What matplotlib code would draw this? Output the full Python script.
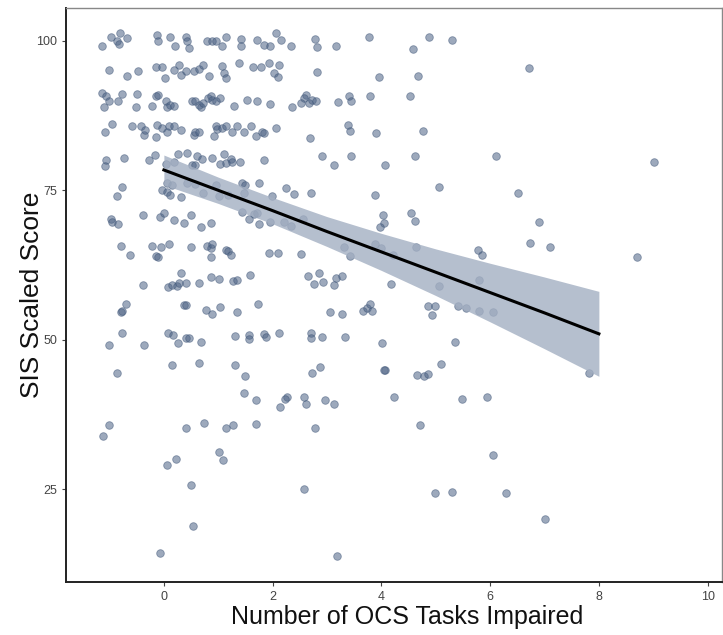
import matplotlib.pyplot as plt

# Jittered points: number of OCS tasks impaired vs SIS scaled score
ocs_x = [
    # ~100 band
    -1.14, -0.97, -0.86, -0.80, -0.83, -0.68, -0.12, -0.10, 0.11, 0.21, 0.40, 0.43, 0.47,
    0.79, 0.89, 0.95, 1.07, 1.14, 1.41, 1.41, 1.72, 1.84, 1.96, 2.06, 2.15, 2.33,
    2.78, 2.82, 3.16, 3.78, 4.59, 4.87, 5.30,
    # ~95 band
    -1.01, -0.68, -0.48, -0.15, -0.03, 0.02, 0.18, 0.28, 0.31, 0.41, 0.55, 0.64, 0.72,
    0.83, 1.07, 1.10, 1.14, 1.38, 1.63, 1.78, 1.93, 2.03, 2.09, 2.12,
    2.82, 3.96, 4.68, 6.72,
    # ~90 band
    -1.14, -1.07, -1.10, -1.01, -0.84, -0.77, -0.52, -0.49, -0.21, -0.15, -0.10, 0.03,
    0.06, 0.12, 0.18, 0.52, 0.58, 0.64, 0.68, 0.72, 0.81, 0.86, 0.89, 0.95, 1.04, 1.29,
    1.53, 1.72, 1.95, 2.36, 2.61, 2.58, 2.66, 2.73, 2.79, 2.52, 3.21, 3.41, 3.45, 3.79, 4.52,
    # ~85 band
    -1.09, -0.96, -0.58, -0.43, -0.37, -0.34, -0.15, -0.12, -0.03, 0.06, 0.09, 0.18, 0.31,
    0.55, 0.58, 0.64, 0.92, 0.95, 0.98, 1.07, 1.14, 1.26, 1.35, 1.47, 1.60, 1.69, 1.81,
    1.84, 2.06, 3.38, 3.43, 2.68, 3.90, 4.76,
    # ~80 band
    -1.07, -1.09, -0.74, -0.28, -0.17, 0.03, 0.18, 0.26, 0.43, 0.51, 0.58, 0.61, 0.71,
    0.88, 1.03, 1.10, 1.14, 1.23, 1.26, 1.40, 1.84, 2.90, 3.44, 3.12, 4.06, 4.62, 6.11, 9.01,
    # ~75 band
    -0.77, -0.03, 0.06, 0.15, 0.43, 0.58, 0.95, 1.44, 1.50, 1.75, 2.24, 5.06,
    -0.87, 0.06, 0.12, 0.32, 0.72, 1.01, 1.17, 1.47, 1.98, 2.39, 2.71, 3.89, 6.51,
    # ~70 band
    -0.98, -0.95, -0.84, -0.39, -0.08, 0.00, 0.18, 0.37, 0.49, 0.69, 0.86, 1.44, 1.57,
    1.66, 1.72, 1.75, 1.96, 2.21, 2.33, 4.03, 4.55, 4.62, 4.04, 3.98, 6.89, 2.56,
    # ~65 band
    -0.78, -0.63, -0.21, -0.15, -0.10, -0.06, 0.09, 0.50, 0.80, 0.86, 0.89, 0.86, 1.14,
    1.17, 1.24, 1.93, 2.10, 3.31, 3.42, 3.89, 3.99, 4.21, 4.63, 6.73, 5.77, 5.85, 2.52,
    7.11, 8.70,
    # ~60 band
    -0.38, 0.08, 0.15, 0.25, 0.28, 0.31, 0.40, 0.64, 0.86, 1.01, 1.27, 1.35, 1.58,
    2.65, 2.76, 2.85, 2.93, 3.13, 3.16, 3.28, 4.17, 5.06, 5.79,
    # ~55 band
    -0.78, -0.77, -0.69, 0.37, 0.40, 0.77, 0.89, 1.04, 1.34, 1.73,
    3.05, 3.28, 3.66, 3.74, 3.79, 3.82, 4.85, 4.99, 4.94, 5.40, 5.56, 5.79, 6.05,
    # ~50 band
    -1.01, -0.77, -0.37, 0.08, 0.17, 0.26, 0.40, 0.46, 0.68, 1.30, 1.57, 1.57, 1.85,
    1.87, 2.12, 2.70, 2.71, 2.90, 3.33, 4.01, 5.36,
    # ~45 band
    -0.86, 0.15, 0.64, 1.31, 1.49, 2.73, 2.87, 4.06, 4.05, 4.65, 4.79, 4.85, 5.10, 7.81,
    # ~40 band
    1.47, 1.69, 2.26, 2.23, 2.13, 2.58, 2.61, 2.96, 3.12, 4.24, 5.49, 5.95,
    # ~35 band
    -1.01, -1.12, 0.40, 0.74, 1.14, 1.28, 1.70, 2.77, 4.71,
    # ~30 band and below
    1.02, 1.08, 0.23, 0.05, 6.06, 0.49, 2.58, 4.99, 5.29, 6.29, 0.54, 7.00, -0.07, 3.18,
]
sis_score = [
    99.1, 100.7, 99.9, 101.3, 99.4, 100.4, 101.0, 99.9, 100.6, 99.1, 100.6, 99.9, 98.8,
    99.9, 99.9, 99.9, 99.1, 100.6, 100.3, 99.1, 100.2, 99.3, 99.1, 101.3, 100.2, 99.1,
    100.3, 98.9, 99.2, 100.7, 98.7, 100.7, 100.2,
    95.2, 94.1, 95.0, 95.7, 95.7, 93.8, 95.2, 96.0, 94.3, 94.9, 94.9, 95.3, 96.0,
    94.1, 95.8, 94.6, 93.8, 96.3, 95.6, 95.6, 96.3, 94.7, 94.0, 96.0,
    94.8, 93.9, 94.1, 95.4,
    91.2, 90.7, 89.0, 89.9, 90.0, 91.1, 88.9, 91.1, 89.1, 90.8, 91.0, 89.9,
    89.0, 89.3, 89.1, 90.0, 89.9, 89.3, 89.0, 89.6, 90.4, 90.7, 90.1, 90.0, 90.4, 89.1,
    90.1, 89.9, 89.4, 88.9, 91.0, 90.4, 89.6, 90.1, 89.9, 89.6, 89.7, 90.7, 89.9, 90.8, 90.8,
    84.7, 86.1, 85.7, 85.7, 84.3, 85.1, 83.9, 86.0, 85.4, 84.8, 85.7, 85.7, 85.1,
    84.3, 84.7, 84.8, 84.1, 85.7, 85.2, 85.4, 85.7, 84.7, 85.7, 84.7, 85.8, 84.0, 84.7,
    84.6, 85.5, 86.0, 85.0, 83.8, 84.6, 85.0,
    80.1, 79.0, 80.4, 80.1, 80.9, 79.4, 79.8, 81.1, 81.2, 79.2, 79.2, 80.7, 80.2,
    80.4, 79.4, 81.1, 79.5, 80.2, 79.8, 79.8, 80.1, 80.7, 80.7, 79.2, 79.3, 80.8, 80.8, 79.7,
    75.5, 75.1, 76.2, 75.9, 76.2, 76.1, 75.9, 76.2, 75.9, 76.2, 75.4, 75.5,
    74.1, 74.8, 74.2, 73.9, 74.6, 74.0, 74.2, 74.6, 74.0, 74.4, 74.5, 74.2, 74.6,
    70.2, 69.7, 69.4, 70.9, 70.6, 71.2, 70.0, 69.6, 70.9, 68.8, 69.5, 71.3, 70.2,
    71.1, 71.2, 69.3, 69.7, 69.7, 69.1, 70.9, 71.2, 69.9, 69.6, 68.8, 69.7, 70.2,
    65.7, 64.2, 65.7, 64.0, 63.9, 65.6, 66.1, 65.6, 65.7, 65.3, 66.1, 63.9, 65.0,
    64.8, 64.2, 64.5, 64.6, 65.5, 64.0, 66.1, 65.3, 64.2, 65.6, 66.2, 65.0, 64.2, 64.4,
    65.6, 63.9,
    59.2, 58.9, 59.2, 59.0, 59.5, 61.1, 59.5, 59.5, 60.5, 60.1, 59.8, 60.0, 60.9,
    60.7, 59.4, 61.1, 59.6, 59.2, 60.3, 60.7, 59.3, 59.0, 60.0,
    54.7, 54.9, 56.0, 55.8, 55.8, 55.0, 54.3, 55.5, 54.7, 56.0,
    54.6, 54.3, 54.9, 55.3, 56.0, 54.9, 55.7, 55.7, 54.1, 55.7, 55.3, 54.9, 54.7,
    49.1, 51.1, 49.1, 51.1, 50.8, 49.5, 50.3, 50.3, 49.7, 50.7, 50.8, 50.2, 51.0,
    50.4, 51.1, 51.1, 50.3, 50.4, 50.4, 49.4, 49.7,
    44.4, 45.8, 46.2, 45.8, 44.0, 44.4, 45.4, 45.0, 45.0, 44.1, 43.9, 44.3, 45.9, 44.4,
    41.1, 39.9, 40.4, 40.1, 38.8, 40.4, 39.3, 40.0, 39.3, 40.5, 40.1, 40.4,
    35.8, 33.9, 35.3, 36.1, 35.3, 35.8, 36.0, 35.2, 35.7,
    31.3, 29.9, 30.1, 29.0, 30.7, 25.75, 25.1, 24.3, 24.6, 24.4, 18.9, 20.1, 14.4, 13.9,
]

# Linear fit with 95% confidence band
fit_x = [0, 1, 2, 3, 4, 5, 6, 7, 8]
fit_y = [78.4, 75.0, 71.6, 68.1, 64.7, 61.3, 57.9, 54.5, 51.0]
ci_low = [75.9, 72.8, 69.4, 65.6, 61.6, 57.4, 53.0, 48.5, 43.9]
ci_high = [80.9, 77.2, 73.8, 70.6, 67.8, 65.2, 62.8, 60.5, 58.1]

plt.rcParams['font.family'] = ['Liberation Sans', 'DejaVu Sans']

fig = plt.figure(figsize=(7.23, 6.35), dpi=100)
ax = fig.add_axes([0.0913, 0.0835, 0.907, 0.904])

ax.scatter(ocs_x, sis_score, s=30, color='#4d6385', alpha=0.55,
           edgecolors='#3e5577', linewidths=0.6, zorder=2)
ax.fill_between(fit_x, ci_low, ci_high, color='#a3afc2', alpha=0.8,
                linewidth=0, zorder=3)
ax.plot(fit_x, fit_y, color='black', linewidth=2.2, zorder=4)

ax.set_xlim(-1.80, 10.26)
ax.set_ylim(9.5, 105.5)
ax.set_xticks([0, 2, 4, 6, 8, 10])
ax.set_yticks([25, 50, 75, 100])

ax.set_xlabel("Number of OCS Tasks Impaired", fontsize=18, color='#111111')
ax.xaxis.set_label_coords(0.52, -0.04)
ax.set_ylabel("SIS Scaled Score", fontsize=19, color='#111111')
ax.yaxis.set_label_coords(-0.034, 0.5)
ax.tick_params(axis='both', labelsize=9, colors='#444444', length=3, width=0.8)

for side in ['left', 'bottom']:
    ax.spines[side].set_color('#222222')
    ax.spines[side].set_linewidth(1.4)
for side in ['top', 'right']:
    ax.spines[side].set_color('#888888')
    ax.spines[side].set_linewidth(1.0)

plt.savefig('out.png', dpi=100)
